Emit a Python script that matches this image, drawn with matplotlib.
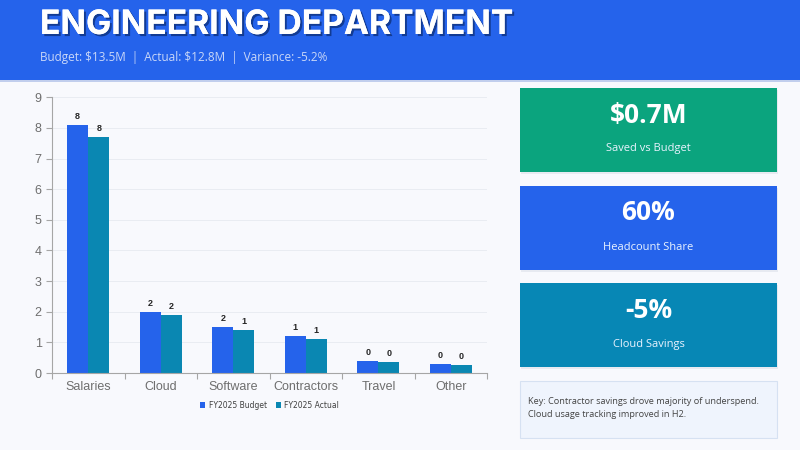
import matplotlib
matplotlib.use("Agg")
import matplotlib.pyplot as plt
import matplotlib.patheffects as pe
from matplotlib.patches import Rectangle
import numpy as np

# spend by category, $M
categories = ['Salaries', 'Cloud', 'Software', 'Contractors', 'Travel', 'Other']
budget = [8.1, 2.0, 1.5, 1.2, 0.4, 0.3]
actual = [7.7, 1.9, 1.4, 1.1, 0.35, 0.25]
series_names = ['FY2025 Budget', 'FY2025 Actual']

# KPI cards
kpi_values = [r'\$0.7M', '60%', '-5%']
kpi_labels = ['Saved vs Budget', 'Headcount Share', 'Cloud Savings']
kpi_colors = ['#0BA47E', '#2563EB', '#0787B5']

title = 'ENGINEERING DEPARTMENT'
subtitle = r'Budget: \$13.5M  |  Actual: \$12.8M  |  Variance: -5.2%'
key_note = 'Key: Contractor savings drove majority of underspend.\nCloud usage tracking improved in H2.'

page_bg = '#F8F9FD'
blue = '#2563EB'
teal = '#0A87B2'

fig = plt.figure(figsize=(8, 4.5), dpi=100)
fig.patch.set_facecolor(page_bg)

# overlay in pixel coordinates for header and cards
deco = fig.add_axes([0, 0, 1, 1], zorder=0)
deco.set_xlim(0, 800)
deco.set_ylim(450, 0)
deco.axis('off')

deco.add_patch(Rectangle((0, 79), 800, 3, color='#1d4fc0', alpha=0.25, lw=0))
deco.add_patch(Rectangle((0, 0), 800, 80, color=blue, lw=0))
deco.text(40, 25, title, color='white', fontsize=24.2, fontweight='bold',
          family='Inter', va='center', ha='left',
          path_effects=[pe.withSimplePatchShadow(offset=(1.5, -1.5), shadow_rgbFace='#0b2a6e', alpha=0.7),
                        pe.Normal()])
deco.text(40, 58, subtitle, color='#C9D7F8', fontsize=8.5, family='Open Sans',
          va='center', ha='left')

card_tops = [88, 186, 283]
for top, val, lab, col in zip(card_tops, kpi_values, kpi_labels, kpi_colors):
    deco.add_patch(Rectangle((521, top + 2), 257, 84, color='#c8cfdc', alpha=0.35, lw=0))
    deco.add_patch(Rectangle((520, top), 257, 84, color=col, lw=0))
    deco.text(648.5, top + 27, val, color='white', fontsize=19, fontweight='bold',
              family='Open Sans', ha='center', va='center')
    deco.text(648.5, top + 61, lab, color='#EAF3FF', fontsize=8, family='Open Sans',
              ha='center', va='center')

deco.add_patch(Rectangle((520, 381), 257, 57, facecolor='#EFF4FD', edgecolor='#D6E1F2', lw=0.8))
deco.text(528, 408, key_note, color='#444444', fontsize=6.6, family='Open Sans',
          ha='left', va='center', linespacing=1.45)

# bar chart
ax = fig.add_axes([0.065, 0.171, 0.544, 0.613], zorder=1)
ax.set_facecolor('none')
x = np.arange(len(categories))
w = 0.29
b1 = ax.bar(x - w / 2, budget, w, color=blue, label=series_names[0], zorder=2)
b2 = ax.bar(x + w / 2, actual, w, color=teal, label=series_names[1], zorder=2)
for bars in (b1, b2):
    ax.bar_label(bars, labels=['%.0f' % round(v) for v in bars.datavalues],
                 padding=3, fontsize=6.5, color='#262626', fontweight='bold',
                 family='Liberation Sans')

ax.set_ylim(0, 9)
ax.set_xlim(-0.5, len(categories) - 0.5)
ax.set_yticks(range(10))
ax.yaxis.grid(True, color='#E9ECF2', lw=0.7, zorder=0)
ax.set_axisbelow(True)
ax.set_xticks(x)
ax.set_xticklabels(categories)
ax.set_xticks(np.arange(-0.5, len(categories)), minor=True)
ax.tick_params(axis='x', which='major', length=0, pad=6, labelsize=9, labelcolor='#6E6E6E')
ax.tick_params(axis='x', which='minor', length=4, color='#A6A6A6', width=0.8)
ax.tick_params(axis='y', length=4, color='#A6A6A6', labelsize=9, labelcolor='#6E6E6E', width=0.8)
for lab in ax.get_xticklabels() + ax.get_yticklabels():
    lab.set_family('Liberation Sans')
for s in ['top', 'right']:
    ax.spines[s].set_visible(False)
for s in ['left', 'bottom']:
    ax.spines[s].set_color('#A6A6A6')
    ax.spines[s].set_linewidth(0.8)

ax.legend(loc='upper center', bbox_to_anchor=(0.5, -0.075), ncol=2, frameon=False,
          fontsize=5.5, handlelength=0.7, handleheight=0.7, handletextpad=0.4,
          columnspacing=1.2, labelcolor='#404040')

fig.savefig('out.png', dpi=100, facecolor=page_bg)
